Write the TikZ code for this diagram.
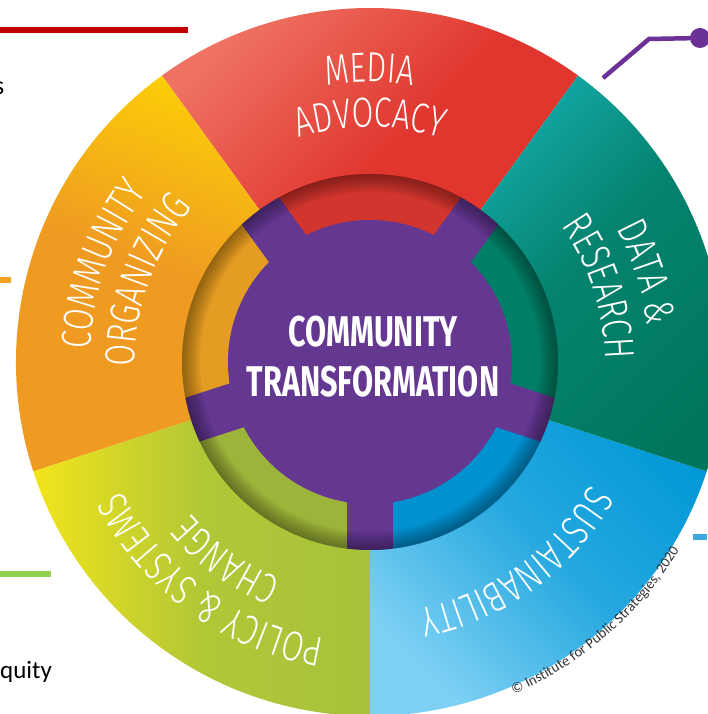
\documentclass[tikz,border=0pt]{standalone}
\usepackage{fontspec}
\setmainfont{Carlito}
\newfontfamily\lblfont[FakeStretch=0.75]{Fira Sans Light}
\newfontfamily\ctrfont[FakeStretch=0.71]{Fira Sans}
\usetikzlibrary{decorations.text}
\definecolor{redL}{HTML}{EF7262}
\definecolor{redD}{HTML}{E0362E}
\definecolor{redI}{HTML}{D2352D}
\definecolor{oraY}{HTML}{FDD205}
\definecolor{oraD}{HTML}{EF9B22}
\definecolor{oraI}{HTML}{E49C22}
\definecolor{grnY}{HTML}{F2E41B}
\definecolor{grnD}{HTML}{A6C23B}
\definecolor{grnI}{HTML}{9DB43A}
\definecolor{bluL}{HTML}{7DD0F4}
\definecolor{bluD}{HTML}{0097D6}
\definecolor{bluI}{HTML}{0091D0}
\definecolor{tealL}{HTML}{19B4B9}
\definecolor{tealD}{HTML}{00775D}
\definecolor{tealI}{HTML}{007F66}
\definecolor{purp}{HTML}{643791}
\definecolor{purpline}{HTML}{6B3197}
\definecolor{lineRed}{HTML}{C00000}
\definecolor{lineOra}{HTML}{F4A41F}
\definecolor{lineGrn}{HTML}{92D050}
\definecolor{lineBlu}{HTML}{3CA9E2}
\tikzset{
  seglabel/.style={decorate, decoration={text along path, text align=center, text color=white,
     text={|\lblfont\fontsize{42}{42}\selectfont|#1}}},
  sideline/.style={line width=5.5pt},
}
\begin{document}
\begin{tikzpicture}[x=1pt,y=1pt]
\useasboundingbox (-370,-352) rectangle (337,362);
\fill[white] (-370,-352) rectangle (337,362);
% outer ring segments
\shade[top color=redL, bottom color=redD, middle color=redD, shading angle=45]
  (0,0) -- (54:354) arc[start angle=54, end angle=126, radius=354] -- cycle;
\shade[top color=oraY, bottom color=oraD, middle color=oraD, shading angle=-20]
  (0,0) -- (126:354) arc[start angle=126, end angle=198, radius=354] -- cycle;
\shade[left color=grnY, right color=grnD, middle color=grnD!85!grnY]
  (0,0) -- (198:354) arc[start angle=198, end angle=270, radius=354] -- cycle;
\shade[top color=bluL, bottom color=bluD, middle color=bluD!70!bluL, shading angle=135]
  (0,0) -- (270:354) arc[start angle=270, end angle=342, radius=354] -- cycle;
\shade[top color=tealL, bottom color=tealD, middle color=tealD!80!tealL, shading angle=45]
  (0,0) -- (-18:354) arc[start angle=-18, end angle=54, radius=354] -- cycle;
% inner ring
\fill[redI] (0,0) -- (54:188) arc[start angle=54, end angle=126, radius=188] -- cycle;
\fill[oraI] (0,0) -- (126:188) arc[start angle=126, end angle=198, radius=188] -- cycle;
\fill[grnI] (0,0) -- (198:188) arc[start angle=198, end angle=270, radius=188] -- cycle;
\fill[bluI] (0,0) -- (270:188) arc[start angle=270, end angle=342, radius=188] -- cycle;
\fill[tealI] (0,0) -- (-18:188) arc[start angle=-18, end angle=54, radius=188] -- cycle;
\begin{scope}
  \clip (0,0) circle (188);
  \foreach \a in {54,126,198,270,342}
    \fill[purp, rotate=\a] (0,-23) rectangle (200,23);
  \foreach \w in {2,4,...,18}
    \draw[black, opacity=0.045, line width=2*\w] (0,0) circle (188);
\end{scope}
\fill[purp] (0,0) circle (142);
% centre text
\node[anchor=base, inner sep=0, text=white, font=\ctrfont\bfseries\fontsize{43}{43}\selectfont] (ct1) at (3,15) {COMMUNITY};
\node[anchor=base, inner sep=0, text=white, font=\ctrfont\bfseries\fontsize{43}{43}\selectfont] (ct2) at (3,-35) {TRANSFORMATION};
% segment labels
\path[seglabel={MEDIA}] (125:280) arc[start angle=125, end angle=55, radius=280];
\path[seglabel={ADVOCACY}] (130:235) arc[start angle=130, end angle=50, radius=235];
\path[seglabel={COMMUNITY}] (200:280) arc[start angle=200, end angle=120, radius=280];
\path[seglabel={ORGANIZING}] (205:235) arc[start angle=205, end angle=115, radius=235];
\path[seglabel={DATA {\&}}] (58:280) arc[start angle=58, end angle=-22, radius=280];
\path[seglabel={RESEARCH}] (60:235) arc[start angle=60, end angle=-24, radius=235];
\path[seglabel={SUSTAINABILITY}] (-10:252) arc[start angle=-10, end angle=-98, radius=252];
\path[seglabel={POLICY {\&} SYSTEMS}] (-80:280) arc[start angle=-80, end angle=-172, radius=280];
\path[seglabel={CHANGE}] (-85:235) arc[start angle=-85, end angle=-167, radius=235];
% copyright
\path[decorate, decoration={text along path, text align=center, text color=black!80,
   text={|\fontsize{14.5}{15}\selectfont|{\textcopyright} Institute for Public Strategies, 2020}}]
  (-80:362) arc[start angle=-80, end angle=-18, radius=362];
% slide remnants
\node[anchor=base east, inner sep=0, font=\fontsize{26}{30}\selectfont] (stxt) at (-365.5,267) {s};
\node[anchor=base west, inner sep=0, font=\fontsize{25}{30}\selectfont] (qtxt) at (-370,-316) {quity};
\coordinate (r1) at (-370,332); \coordinate (r2) at (-182,332);
\draw[sideline, lineRed] (r1) -- (r2);
\coordinate (o1) at (-370,82); \coordinate (o2) at (-359,82);
\draw[sideline, lineOra] (o1) -- (o2);
\coordinate (g1) at (-370,-212); \coordinate (g2) at (-319,-212);
\draw[sideline, lineGrn] (g1) -- (g2);
\coordinate (b1) at (323,-175); \coordinate (b2) at (337,-175);
\draw[sideline, lineBlu] (b1) -- (b2);
\coordinate (p1) at (233,284); \coordinate (p2) at (279,323);
\node[circle, fill=purpline, minimum size=20pt, inner sep=0] (pdot) at (330,324) {};
\draw[purpline, line width=4.5pt] (p1) -- (p2) -- (pdot.center);
\end{tikzpicture}
\end{document}
